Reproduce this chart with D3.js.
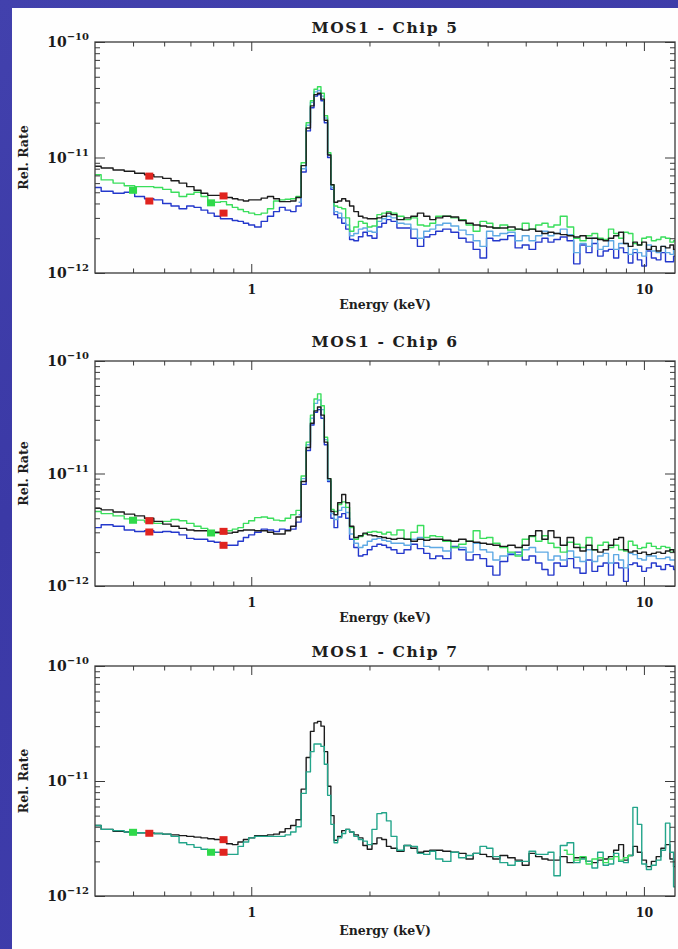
<!DOCTYPE html>
<html><head><meta charset="utf-8">
<script src="https://cdn.jsdelivr.net/npm/d3@7"></script>
<style>html,body{margin:0;padding:0;background:#3d3ba8;}svg{display:block}</style>
</head><body>
<svg id="c" width="678" height="949"></svg>
<script>
// ---------------- DATA ----------------
// energies (keV) shared by all spectra
const energy = [0.40,0.43,0.46,0.49,0.52,0.55,0.58,0.61,0.64,0.67,0.70,0.73,0.76,0.79,0.82,0.85,0.88,0.91,0.94,0.97,1.00,
 1.04,1.08,1.12,1.16,1.20,1.24,1.28,1.32,1.36,1.40,
 1.43,1.46,1.49,1.52,1.55,1.58,1.61,1.64,
 1.68,1.72,1.76,1.80,
 1.85,1.90,1.95,2.00,
 2.06,2.12,2.18,2.24,2.30,
 2.40,2.50,2.60,2.70,2.80,2.90,3.00,
 3.15,3.30,3.45,3.60,3.75,3.90,4.05,4.20,
 4.40,4.60,4.80,5.00,5.20,5.40,5.60,5.80,6.00,
 6.25,6.50,6.75,7.00,7.25,7.50,7.75,8.00,8.25,8.50,8.75,9.00,9.25,9.50,9.75,10.0,
 10.3,10.6,10.9,11.2,11.5,11.8,12.0];

// relative rates in units of 1e-12
const UNIT = 1e-12;
const _ = null;

// MOS1 - Chip 5
const p1Black = [8.4,8.1,7.8,7.6,7.3,7.1,6.8,6.6,6.3,6.0,5.6,5.2,4.9,4.7,4.7,4.65,4.5,4.4,4.3,4.2,4.3,
 4.3,4.45,4.6,4.4,4.15,4.15,4.2,4.5,8.5,18,
 28,35,36,32,21,10.5,5.8,4.1,
 4.2,4.4,4.2,3.8,
 3.4,3.1,3.0,2.95,
 2.95,3.0,3.1,3.3,3.2,
 2.9,3.0,3.1,3.3,3.1,2.9,3.0,
 3.1,3.05,2.85,2.7,2.6,2.55,2.5,2.45,
 2.45,2.5,2.4,2.35,2.4,2.3,2.2,2.25,2.2,
 2.15,2.1,2.05,2.1,2.0,2.0,1.95,1.9,2.0,2.1,2.25,1.8,1.7,1.85,1.75,1.85,
 1.6,1.7,1.55,1.7,1.65,1.75,1.6];
const p1Blue = [5.5,5.1,4.9,5.0,4.6,4.4,4.3,4.0,3.8,3.6,3.8,3.7,3.5,3.3,3.1,2.95,2.95,2.85,2.8,2.7,2.6,
 2.5,2.8,3.1,3.4,3.7,3.5,3.4,3.8,7.5,17,
 27,34,35,31,20,10,5.3,3.2,
 3.0,2.7,2.4,1.95,
 1.9,2.06,2.25,2.1,
 2.0,2.5,2.7,2.9,2.8,
 2.45,2.45,2.0,1.7,2.05,2.15,2.3,
 2.4,2.25,2.0,1.85,1.6,1.35,2.0,1.9,
 1.95,2.1,1.65,1.75,1.6,1.85,2.0,1.85,1.95,
 2.05,1.9,1.2,1.75,1.5,1.8,1.4,1.55,1.6,1.35,1.65,1.5,1.22,1.5,1.3,1.15,
 1.55,1.35,1.3,1.5,1.25,1.25,1.4];
const p1Green = [7.1,6.4,6.0,5.7,5.6,5.6,5.5,5.3,5.0,4.6,4.8,5.0,4.6,4.1,4.1,4.15,3.9,3.7,3.55,3.4,3.3,
 3.2,3.3,3.6,4.2,4.3,4.35,4.4,4.6,9,20,
 31,39,41,36,23,11,5.8,3.8,
 3.7,3.6,3.0,2.3,
 2.5,2.8,2.7,2.5,
 2.55,3.2,3.3,3.4,3.3,
 3.1,2.9,3.0,2.6,2.55,2.7,3.1,
 3.1,3.0,2.9,2.6,2.3,2.8,2.7,2.45,
 2.6,2.35,2.4,2.7,2.4,2.6,2.7,2.5,2.6,
 3.1,2.5,2.0,1.9,2.1,2.2,2.0,1.95,2.4,2.2,2.0,2.25,2.2,1.8,1.75,2.0,
 2.05,1.9,1.95,2.05,2.0,1.85,1.9];
const p1Cyan = [_,_,_,_,_,_,_,_,_,_,_,_,_,_,_,_,_,_,_,_,_,
 _,_,_,_,_,_,_,4.1,8,19,
 30,37,38,34,22,10.5,5.5,3.4,
 3.3,3.0,2.6,2.1,
 2.2,2.4,2.45,2.3,
 2.25,2.8,2.95,3.1,3.0,
 2.7,2.65,2.4,2.0,2.3,2.4,2.6,
 2.7,2.55,2.35,2.15,1.9,1.7,2.3,2.1,
 2.2,2.25,1.9,2.1,1.9,2.1,2.3,2.1,2.2,
 2.4,2.15,1.5,1.8,1.7,2.0,1.6,1.7,1.9,1.6,1.8,1.8,1.45,1.6,1.5,1.4,
 1.75,1.55,1.5,1.7,1.5,1.45,1.6];

// MOS1 - Chip 6
const p2Black = [4.9,4.75,4.55,4.35,4.2,4.0,3.75,3.55,3.4,3.25,3.15,3.1,3.1,3.05,3.0,3.0,2.95,3.0,3.1,3.15,3.15,
 3.1,3.1,3.0,2.9,2.9,3.1,3.4,4.1,8.5,17,
 28,36,39,33,19,9,4.6,4.3,
 5.5,6.5,5.5,3.4,
 2.7,2.8,2.95,2.85,
 2.8,2.75,2.7,2.65,2.6,
 2.65,2.6,2.5,2.6,2.55,2.6,2.6,
 2.55,2.5,2.6,2.5,2.45,2.4,2.35,2.3,
 2.25,2.3,2.2,2.3,2.8,3.1,2.6,3.1,2.7,
 2.3,2.7,2.2,2.05,2.3,2.1,2.0,2.1,2.3,2.6,2.7,2.1,2.0,2.05,1.95,2.0,
 1.9,1.95,2.0,1.95,2.05,2.1,2.0];
const p2Blue = [3.3,3.5,3.4,3.15,3.05,3.1,3.0,3.05,3.0,2.85,2.65,2.6,2.6,2.5,2.45,2.35,2.3,2.3,2.5,2.7,2.85,
 3.0,3.2,3.15,3.05,3.2,3.15,3.2,3.7,8,16,
 27,35,37,31,18,8.5,4.0,3.3,
 4.1,4.4,4.0,2.6,
 2.2,1.85,1.9,2.1,
 2.25,2.35,2.3,2.2,2.1,
 1.95,2.1,2.35,2.15,1.95,1.75,1.85,
 1.75,2.25,2.1,1.7,1.9,1.75,1.5,1.25,
 1.65,1.9,2.0,1.7,1.85,1.6,1.4,1.25,1.6,
 1.5,1.75,1.45,1.3,1.7,1.35,1.5,1.6,1.25,1.6,1.45,1.1,1.55,1.6,1.5,1.35,
 1.45,1.6,1.5,1.4,1.55,1.5,1.4];
const p2Green = [4.6,4.4,4.2,3.95,3.85,3.7,3.6,3.75,3.9,3.8,3.6,3.4,3.25,3.1,2.95,3.0,3.1,3.2,3.3,3.6,3.8,
 4.05,4.1,4.0,3.85,3.8,4.0,4.3,4.7,9.5,19,
 33,46,51,40,21,9,4.8,4.6,
 5.3,5.6,5.0,3.3,
 2.6,2.75,2.9,3.0,
 3.05,3.0,2.9,3.0,2.85,
 3.15,2.6,3.0,3.45,2.7,2.8,2.75,
 2.5,2.2,2.35,2.5,3.1,2.65,2.7,2.4,
 2.2,2.0,1.85,2.6,2.75,2.5,2.8,2.4,2.2,
 2.0,2.45,2.35,2.2,2.7,2.1,2.3,2.45,2.2,2.3,2.1,2.05,2.5,2.3,2.15,2.2,
 2.4,2.25,2.15,2.25,2.2,2.0,2.1];
const p2Cyan = [_,_,_,_,_,_,_,_,_,_,_,_,_,_,_,_,_,_,_,_,_,
 _,_,_,_,_,_,_,4.3,9,18,
 31,42,45,37,20,8.7,4.4,3.9,
 4.7,5.0,4.5,2.9,
 2.4,2.2,2.3,2.5,
 2.6,2.65,2.55,2.5,2.4,
 2.4,2.3,2.6,2.7,2.25,2.2,2.2,
 2.05,2.2,2.2,2.0,2.4,2.1,2.0,1.7,
 1.85,1.95,1.9,2.1,2.2,2.0,2.0,1.7,1.85,
 1.7,2.05,1.8,1.65,2.1,1.65,1.85,1.95,1.6,1.9,1.7,1.45,1.95,1.9,1.75,1.7,
 1.85,1.85,1.75,1.75,1.8,1.7,1.7];

// MOS1 - Chip 7
const p3Black = [4.1,3.8,3.65,3.6,3.55,3.55,3.5,3.45,3.4,3.35,3.3,3.25,3.2,3.15,3.1,3.05,2.85,2.8,2.95,3.1,3.2,
 3.35,3.35,3.4,3.45,3.6,3.85,4.1,4.6,8.5,16,
 27,32,33,30,18,9,5.0,3.05,
 3.3,3.7,3.8,3.6,
 3.4,3.2,2.75,2.55,
 2.85,3.2,3.1,2.7,2.6,
 2.45,2.75,2.6,2.4,2.45,2.5,2.5,
 2.45,2.4,2.35,2.1,2.35,2.3,2.2,2.1,
 2.25,2.15,2.05,1.85,2.35,2.2,2.1,2.05,2.05,
 2.2,1.95,2.15,2.15,2.0,1.95,2.05,2.1,2.2,2.5,2.8,2.05,2.25,2.7,2.4,2.05,
 1.8,2.0,2.2,2.6,2.8,2.1,1.8];
const p3Teal = [4.1,3.8,3.7,3.6,3.55,3.55,3.5,3.45,3.3,2.9,2.8,2.65,2.55,2.4,2.4,2.4,2.3,2.3,2.7,2.95,3.2,
 3.3,3.3,3.3,3.3,3.3,3.4,3.6,4.0,7.8,12,
 18,21,21,20,14,7.5,4.2,2.9,
 3.2,3.5,3.8,3.6,
 3.3,3.1,3.0,2.8,
 3.8,5.2,5.3,4.5,3.3,
 2.5,2.75,2.7,2.35,2.3,2.45,2.1,
 2.0,2.4,2.15,2.25,2.35,2.7,2.6,2.2,
 1.95,1.85,2.0,2.0,2.45,2.3,2.3,2.4,1.5,
 2.75,2.9,1.95,2.1,2.0,1.75,2.4,1.85,1.9,2.35,2.0,1.95,2.25,5.9,4.2,1.9,
 1.7,1.85,2.05,2.5,4.3,2.4,1.2];
const p3Green = [_,_,_,_,_,_,_,_,_,_,_,_,_,_,_,_,_,_,_,_,_,
 _,_,_,_,_,_,_,_,_,_,
 _,_,_,_,_,_,_,_,
 _,_,_,_,
 _,_,_,_,
 _,_,_,_,_,
 _,_,_,_,_,_,_,
 _,_,_,_,_,_,_,_,
 _,_,_,_,_,_,_,_,_,
 2.5,2.3,2.05,2.2,1.9,2.1,2.15,1.95,2.1,2.2,2.05,2.15,2.25,_,_,_,
 _,_,_,_,_,_,_];

// square markers (energy keV, rate in 1e-12, colour key)
const p1MarkE = [0.55,0.55,0.50,0.85,0.85,0.79];
const p1MarkV = [6.9,4.2,5.2,4.65,3.3,4.05];
const p1MarkC = ['r','r','g','r','r','g'];
const p2MarkE = [0.55,0.55,0.50,0.85,0.85,0.79];
const p2MarkV = [3.8,3.02,3.84,3.06,2.3,2.96];
const p2MarkC = ['r','r','g','r','r','g'];
const p3MarkE = [0.50,0.55,0.79,0.85,0.85];
const p3MarkV = [3.58,3.51,2.4,3.09,2.4];
const p3MarkC = ['g','r','g','r','r'];

// axes
const xMajor = [1, 10];
const xMajorLabels = ['1', '10'];
const xMinor = [0.5,0.6,0.7,0.8,0.9,2,3,4,5,6,7,8,9];
const yMajor = [1e-12, 1e-11, 1e-10];
const yMajorExp = ['\u221212', '\u221211', '\u221210'];
const yMinor = [2e-12,3e-12,4e-12,5e-12,6e-12,7e-12,8e-12,9e-12,2e-11,3e-11,4e-11,5e-11,6e-11,7e-11,8e-11,9e-11];
const titles = ['MOS1 - Chip 5', 'MOS1 - Chip 6', 'MOS1 - Chip 7'];
const xTitle = 'Energy (keV)';
const yTitle = 'Rel. Rate';

// ---------------- DRAW ----------------
const W = 678, H = 949;
const FONT = '"DejaVu Serif", "Liberation Serif", serif';
const COL = {black:'#1c1c1c', blue:'#2438cc', cyan:'#5ea9e4', green:'#3ade5c', teal:'#23a58a', r:'#e0241f', g:'#2fd94a'};
const svg = d3.select('#c');
const defs = svg.append('defs');
const bg = defs.append('linearGradient').attr('id', 'bgGrad').attr('x1', 0).attr('y1', 0).attr('x2', 0.3).attr('y2', 1);
bg.append('stop').attr('offset', '0%').attr('stop-color', '#4241ad');
bg.append('stop').attr('offset', '50%').attr('stop-color', '#3b39a6');
bg.append('stop').attr('offset', '100%').attr('stop-color', '#3e3cab');
svg.append('rect').attr('width', W).attr('height', H).attr('fill', 'url(#bgGrad)');
svg.append('rect').attr('x', 12).attr('y', 8).attr('width', W - 12).attr('height', H - 8).attr('fill', '#fefefe');

const L = 95, R = 675;
const panels = [
  {title: titles[0], top: 42, bottom: 273, titleY: 33, labelY: 309,
   series: [[p1Blue, COL.blue], [p1Cyan, COL.cyan], [p1Green, COL.green], [p1Black, COL.black]],
   mE: p1MarkE, mV: p1MarkV, mC: p1MarkC},
  {title: titles[1], top: 361, bottom: 586, titleY: 347, labelY: 622,
   series: [[p2Blue, COL.blue], [p2Cyan, COL.cyan], [p2Green, COL.green], [p2Black, COL.black]],
   mE: p2MarkE, mV: p2MarkV, mC: p2MarkC},
  {title: titles[2], top: 666, bottom: 896, titleY: 657, labelY: 935,
   series: [[p3Black, COL.black], [p3Teal, COL.teal], [p3Green, COL.green]],
   mE: p3MarkE, mV: p3MarkV, mC: p3MarkC}
];

panels.forEach((p, pi) => {
  const g = svg.append('g');
  const x = d3.scaleLog().domain([0.4, 12]).range([L, R]);
  const y = d3.scaleLog().domain([1e-12, 1e-10]).range([p.bottom, p.top]);

  const clipId = 'clip' + pi;
  defs.append('clipPath').attr('id', clipId).append('rect')
    .attr('x', L).attr('y', p.top).attr('width', R - L).attr('height', p.bottom - p.top);

  const line = d3.line()
    .defined(d => d[1] != null)
    .x(d => x(d[0])).y(d => y(d[1] * UNIT))
    .curve(d3.curveStep);

  const lg = g.append('g').attr('clip-path', `url(#${clipId})`);
  p.series.forEach(([vals, c]) => {
    lg.append('path')
      .datum(energy.map((e, i) => [e, vals[i]]))
      .attr('d', line).attr('fill', 'none').attr('stroke', c)
      .attr('stroke-width', 1.4).attr('stroke-linejoin', 'round');
  });

  // markers
  g.selectAll('rect.mk').data(p.mE.map((e, i) => [e, p.mV[i], p.mC[i]])).enter()
    .append('rect').attr('class', 'mk')
    .attr('x', d => x(d[0]) - 4).attr('y', d => y(d[1] * UNIT) - 3.5)
    .attr('width', 8).attr('height', 7).attr('fill', d => COL[d[2]]);

  const axStyle = sel => {
    sel.select('.domain').remove();
    sel.selectAll('line').attr('stroke', '#3a3a3a').attr('stroke-width', 1);
  };
  // bottom
  g.append('g').attr('transform', `translate(0,${p.bottom})`)
    .call(d3.axisBottom(x).tickValues(xMajor).tickSize(-9).tickPadding(12)
      .tickFormat((d, i) => xMajorLabels[i]))
    .call(axStyle)
    .call(s => s.selectAll('text').attr('font-family', FONT).attr('font-weight', 'bold')
      .attr('font-size', 12.5).attr('fill', '#1a1a1a'));
  g.append('g').attr('transform', `translate(0,${p.bottom})`)
    .call(d3.axisBottom(x).tickValues(xMinor).tickSize(-4.5).tickFormat(''))
    .call(axStyle);
  // top
  g.append('g').attr('transform', `translate(0,${p.top})`)
    .call(d3.axisTop(x).tickValues(xMajor).tickSize(-9).tickFormat(''))
    .call(axStyle);
  g.append('g').attr('transform', `translate(0,${p.top})`)
    .call(d3.axisTop(x).tickValues(xMinor).tickSize(-4.5).tickFormat(''))
    .call(axStyle);
  // left
  g.append('g').attr('transform', `translate(${L},0)`)
    .call(d3.axisLeft(y).tickValues(yMajor).tickSize(-10).tickFormat(''))
    .call(axStyle);
  g.append('g').attr('transform', `translate(${L},0)`)
    .call(d3.axisLeft(y).tickValues(yMinor).tickSize(-5).tickFormat(''))
    .call(axStyle);
  // right
  g.append('g').attr('transform', `translate(${R},0)`)
    .call(d3.axisRight(y).tickValues(yMajor).tickSize(-10).tickFormat(''))
    .call(axStyle);
  g.append('g').attr('transform', `translate(${R},0)`)
    .call(d3.axisRight(y).tickValues(yMinor).tickSize(-5).tickFormat(''))
    .call(axStyle);

  // frame
  g.append('rect').attr('x', L).attr('y', p.top).attr('width', R - L).attr('height', p.bottom - p.top)
    .attr('fill', 'none').attr('stroke', '#3a3a3a').attr('stroke-width', 1.3);

  // y tick labels 10^n
  yMajor.forEach((v, i) => {
    const t = g.append('text').attr('x', L - 6).attr('y', y(v) + 5)
      .attr('text-anchor', 'end').attr('font-family', FONT).attr('font-weight', 'bold')
      .attr('fill', '#1a1a1a');
    t.append('tspan').attr('font-size', 14).text('10');
    t.append('tspan').attr('font-size', 10).attr('dy', -7).text(yMajorExp[i]);
  });

  // titles
  g.append('text').attr('x', (L + R) / 2).attr('y', p.titleY).attr('text-anchor', 'middle')
    .attr('font-family', FONT).attr('font-weight', 'bold').attr('font-size', 15.5)
    .attr('letter-spacing', 1.6).attr('fill', '#1e1e1e').style('white-space', 'pre')
    .text(p.title);
  g.append('text').attr('x', (L + R) / 2).attr('y', p.labelY).attr('text-anchor', 'middle')
    .attr('font-family', FONT).attr('font-weight', 'bold').attr('font-size', 12.5)
    .attr('fill', '#1e1e1e').text(xTitle);
  g.append('text').attr('transform', `translate(28,${(p.top + p.bottom) / 2}) rotate(-90)`)
    .attr('text-anchor', 'middle')
    .attr('font-family', FONT).attr('font-weight', 'bold').attr('font-size', 12.5)
    .attr('fill', '#1e1e1e').text(yTitle);
});
</script>
</body></html>
